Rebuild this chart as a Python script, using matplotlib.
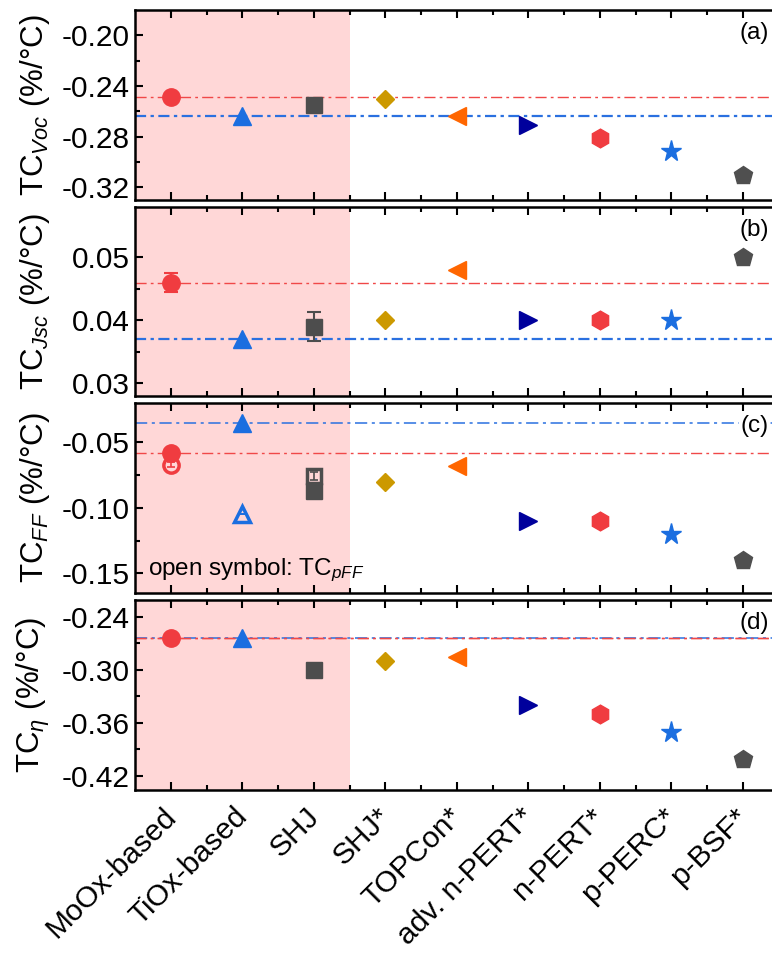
import matplotlib
matplotlib.use("Agg")
import matplotlib.pyplot as plt
import matplotlib.transforms as mtransforms
import numpy as np

plt.rcParams['font.family'] = ['Liberation Sans', 'DejaVu Sans']
plt.rcParams['mathtext.fontset'] = 'custom'
plt.rcParams['mathtext.rm'] = 'Liberation Sans'
plt.rcParams['mathtext.it'] = 'Liberation Sans:italic'

# categories and temperature coefficients (%/°C)
categories = ['MoOx-based', 'TiOx-based', 'SHJ', 'SHJ*', 'TOPCon*',
              'adv. n-PERT*', 'n-PERT*', 'p-PERC*', 'p-BSF*']
tc_voc = [-0.249, -0.264, -0.255, -0.250, -0.264, -0.271, -0.281, -0.291, -0.310]
tc_jsc = [0.046, 0.037, 0.039, 0.040, 0.048, 0.040, 0.040, 0.040, 0.050]
tc_ff = [-0.058, -0.035, -0.087, -0.080, -0.068, -0.110, -0.110, -0.120, -0.140]
tc_eta = [-0.264, -0.264, -0.300, -0.290, -0.285, -0.340, -0.350, -0.370, -0.401]
tc_pff = [-0.067, -0.105, -0.076]   # open symbols, first three devices
jsc_err = [0.0015, 0, 0.0023, 0, 0, 0, 0, 0, 0]
pff_err = [0.002, 0, 0.003]

markers = ['o', '^', 's', 'D', '<', '>', 'h', '*', 'p']
sizes = [12.5, 13.5, 11, 9.5, 13.5, 13.5, 13.5, 15.5, 13.5]
colors = ['#f03c40', '#1b6ee0', '#4d4d4d', '#cc9900', '#ff6600',
          '#00009c', '#f03c40', '#1b6ee0', '#4f4f4f']

panels = [
    (tc_voc, r'TC$_{\mathit{Voc}}$ (%/°C)', (-0.33, -0.18), [-0.20, -0.24, -0.28, -0.32], '(a)'),
    (tc_jsc, r'TC$_{\mathit{Jsc}}$ (%/°C)', (0.028, 0.058), [0.03, 0.04, 0.05], '(b)'),
    (tc_ff, r'TC$_{\mathit{FF}}$ (%/°C)', (-0.165, -0.02), [-0.05, -0.10, -0.15], '(c)'),
    (tc_eta, r'TC$_{\eta}$ (%/°C)', (-0.436, -0.221), [-0.24, -0.30, -0.36, -0.42], '(d)'),
]
errs = [None, jsc_err, None, None]
# panel boxes in pixels (top, bottom)
boxes = [(10, 200), (207, 396), (403, 593), (600, 790)]

W, H = 772, 965
fig = plt.figure(figsize=(W / 100, H / 100), dpi=100)
x = np.arange(len(categories))
left_px, right_px = 135, 790

red_dash = (8, 3, 2, 3)
for i, (vals, ylab, ylim, yt, tag) in enumerate(panels):
    top, bot = boxes[i]
    ax = fig.add_axes([left_px / W, 1 - bot / H, (right_px - left_px) / W, (bot - top) / H])
    ax.axvspan(-0.5, 2.5, color='#ffd7d7', lw=0, zorder=0)

    # reference lines at the MoOx and TiOx values
    ax.axhline(vals[0], color='#f04848', lw=1.0, dashes=red_dash, zorder=1)
    ax.axhline(vals[1], color='#2a70e0', lw=1.6 if i < 2 else 1.1,
               dashes=(5, 2, 1.5, 2) if i < 2 else red_dash, zorder=1)
    if i == 3:
        ax.axhline(vals[0], color='#f04848', lw=1.0, dashes=red_dash, zorder=1)

    for j in range(len(categories)):
        if errs[i] is not None and errs[i][j] > 0:
            ax.errorbar(x[j], vals[j], yerr=errs[i][j], fmt='none', ecolor=colors[j],
                        elinewidth=1.5, capsize=5, capthick=1.5, zorder=2)
        ax.plot(x[j], vals[j], marker=markers[j], ms=sizes[j], color=colors[j],
                mec=colors[j], ls='none', zorder=3)

    if i == 2:
        for j in range(3):
            ax.errorbar(x[j], tc_pff[j], yerr=pff_err[j], fmt='none', ecolor=colors[j],
                        elinewidth=1.2, capsize=3, capthick=1.2, zorder=2)
            ax.plot(x[j], tc_pff[j], marker=markers[j], ms=sizes[j] - 1.5, mfc='none',
                    mec=colors[j], mew=2.5, ls='none', zorder=3)
        ax.text(-0.32, -0.148, r'open symbol: TC$_{\mathit{pFF}}$', fontsize=17.5,
                ha='left', va='center')

    ax.set_xlim(-0.5, (right_px - 171) / 71.5)
    ax.set_ylim(*ylim)
    ax.set_yticks(yt)
    ax.set_yticklabels(['%.2f' % v for v in yt], fontsize=21.5)
    ax.set_yticks([(a + b) / 2 for a, b in zip(yt[:-1], yt[1:])], minor=True)
    ax.set_xticks(x)
    ax.set_xticks(x[:-1] + 0.5, minor=True)
    ax.tick_params(which='both', direction='in', top=True, right=False, width=1.5)
    ax.tick_params(which='major', length=6, pad=4)
    ax.tick_params(which='minor', length=3.5)
    for s in ax.spines.values():
        s.set_linewidth(1.8)

    if i == 3:
        ax.set_xticklabels(categories, fontsize=21.5, rotation=45, ha='right',
                           rotation_mode='anchor')
        ax.tick_params(axis='x', which='major', pad=9)
        shift = mtransforms.ScaledTranslation(-9 / 100, 0, fig.dpi_scale_trans)
        for lab in ax.get_xticklabels():
            lab.set_transform(lab.get_transform() + shift)
    else:
        ax.set_xticklabels([])

    ax.set_ylabel(ylab, fontsize=22.5)
    ax.yaxis.set_label_coords(-0.13 * 640 / (right_px - left_px), 0.5)
    ax.text((769 - left_px) / (right_px - left_px), 0.88, tag, transform=ax.transAxes,
            fontsize=17.5, ha='right', va='center', zorder=4,
            bbox=dict(facecolor='white', edgecolor='none', pad=1))

fig.savefig('out.png', dpi=100)
